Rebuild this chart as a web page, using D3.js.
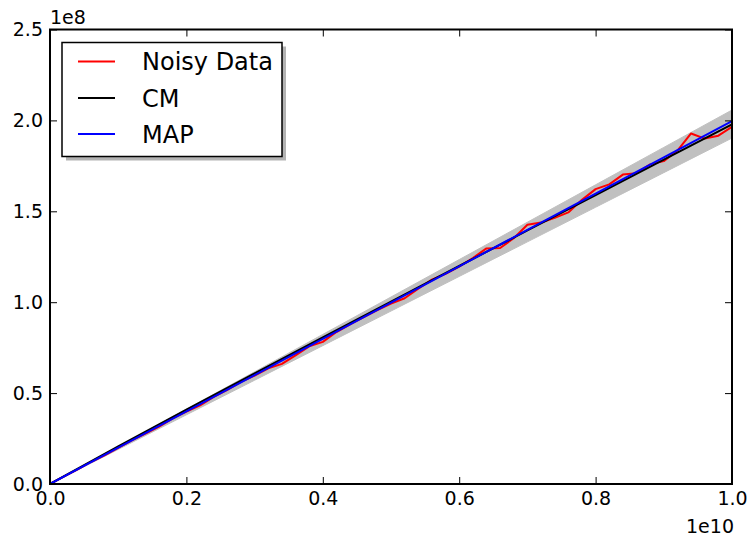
<!DOCTYPE html>
<html>
<head>
<meta charset="utf-8">
<script src="https://cdn.jsdelivr.net/npm/d3@7/dist/d3.min.js"></script>
<style>
  html, body { margin: 0; padding: 0; background: #fff; }
  svg { display: block; font-family: "DejaVu Sans", sans-serif; }
</style>
</head>
<body>
<svg id="chart" width="753" height="544"></svg>
<script>
// x in units of 1e10, y in units of 1e8
const xNoisy = [0, 0.02, 0.04, 0.06, 0.08, 0.10, 0.12, 0.14, 0.16, 0.18,
                0.20, 0.22, 0.24, 0.26, 0.28, 0.30, 0.32, 0.34, 0.36, 0.38,
                0.40, 0.42, 0.44, 0.46, 0.48, 0.50, 0.52, 0.54, 0.56, 0.58,
                0.60, 0.62, 0.64, 0.66, 0.68, 0.70, 0.72, 0.74, 0.76, 0.78,
                0.80, 0.82, 0.84, 0.86, 0.88, 0.90, 0.92, 0.94, 0.96, 0.98, 1.00];
const yNoisy = [0, 0.040, 0.079, 0.121, 0.158, 0.199, 0.240, 0.277, 0.316, 0.361,
                0.398, 0.432, 0.479, 0.518, 0.562, 0.596, 0.636, 0.661, 0.708, 0.757,
                0.782, 0.836, 0.878, 0.918, 0.957, 0.992, 1.022, 1.074, 1.124, 1.156,
                1.196, 1.243, 1.296, 1.298, 1.352, 1.426, 1.438, 1.464, 1.494, 1.563,
                1.622, 1.648, 1.702, 1.710, 1.758, 1.776, 1.834, 1.928, 1.900, 1.916, 1.965];

const xModel = [0, 0.1, 0.2, 0.3, 0.4, 0.5, 0.6, 0.7, 0.8, 0.9, 1.0];
const yCM    = [0, 0.2071, 0.4087, 0.6079, 0.8058, 1.0029, 1.1991, 1.3945, 1.5895, 1.7840, 1.978];
const yMAP   = [0, 0.1996, 0.3992, 0.5988, 0.7984, 0.9980, 1.1976, 1.3972, 1.5968, 1.7964, 1.996];
const yBandLow  = [0, 0.1903, 0.3806, 0.5708, 0.7611, 0.9514, 1.1417, 1.3319, 1.5222, 1.7125, 1.9028];
const yBandHigh = [0, 0.2057, 0.4114, 0.6172, 0.8229, 1.0286, 1.2343, 1.4401, 1.6458, 1.8515, 2.0572];

const xTicks = [0, 0.2, 0.4, 0.6, 0.8, 1.0];
const yTicks = [0, 0.5, 1.0, 1.5, 2.0, 2.5];
const seriesNames = ["Noisy Data", "CM", "MAP"];
const seriesColors = ["#ff0000", "#000000", "#0000ff"];

const svg = d3.select("#chart");
const L = 50, R = 732, T = 29.5, B = 484;

const x = d3.scaleLinear().domain([0, 1]).range([L, R]);
const y = d3.scaleLinear().domain([0, 2.5]).range([B, T]);

svg.append("defs").append("clipPath").attr("id", "plotclip")
  .append("rect").attr("x", L).attr("y", T).attr("width", R - L).attr("height", B - T);

const plot = svg.append("g").attr("clip-path", "url(#plotclip)");

// uncertainty band
const bandData = xModel.map((v, i) => ({x: v, lo: yBandLow[i], hi: yBandHigh[i]}));
plot.append("path")
  .datum(bandData)
  .attr("fill", "#c0c0c0")
  .attr("stroke", "#c0c0c0")
  .attr("stroke-width", 1)
  .attr("d", d3.area().x(d => x(d.x)).y0(d => y(d.lo)).y1(d => y(d.hi)));

const line = d3.line().x(d => x(d[0])).y(d => y(d[1]));
const series = [
  xNoisy.map((v, i) => [v, yNoisy[i]]),
  xModel.map((v, i) => [v, yCM[i]]),
  xModel.map((v, i) => [v, yMAP[i]])
];
series.forEach((pts, i) => {
  plot.append("path")
    .datum(pts)
    .attr("fill", "none")
    .attr("stroke", seriesColors[i])
    .attr("stroke-width", 2)
    .attr("stroke-linejoin", "round")
    .attr("d", line);
});

// axes with inward ticks on all four sides
const fmt = d3.format(".1f");
const tickLen = 7;
function styleAxis(g) {
  g.select(".domain").remove();
  g.selectAll(".tick line").attr("stroke", "#000").attr("stroke-width", 1);
  g.selectAll(".tick text").attr("fill", "#000").style("font-size", "19px")
    .style("font-family", "DejaVu Sans");
}
svg.append("g").attr("transform", `translate(0,${B})`)
  .call(d3.axisBottom(x).tickValues(xTicks).tickFormat(fmt).tickSizeInner(-tickLen).tickSizeOuter(0).tickPadding(8))
  .call(styleAxis);
svg.append("g").attr("transform", `translate(0,${T})`)
  .call(d3.axisTop(x).tickValues(xTicks).tickFormat("").tickSizeInner(-tickLen).tickSizeOuter(0))
  .call(styleAxis);
svg.append("g").attr("transform", `translate(${L},0)`)
  .call(d3.axisLeft(y).tickValues(yTicks).tickFormat(fmt).tickSizeInner(-tickLen).tickSizeOuter(0).tickPadding(7))
  .call(styleAxis);
svg.append("g").attr("transform", `translate(${R},0)`)
  .call(d3.axisRight(y).tickValues(yTicks).tickFormat("").tickSizeInner(-tickLen).tickSizeOuter(0))
  .call(styleAxis);

// frame
svg.append("rect").attr("x", L).attr("y", T).attr("width", R - L).attr("height", B - T)
  .attr("fill", "none").attr("stroke", "#000").attr("stroke-width", 2);

// offset labels
svg.append("text").attr("x", L).attr("y", 24).attr("font-size", 19).text("1e8");
svg.append("text").attr("x", R + 2).attr("y", 533).attr("font-size", 19)
  .attr("text-anchor", "end").text("1e10");

// legend
const lg = svg.append("g");
const lx = 62, ly = 42.5, lw = 220, lh = 114;
lg.append("rect").attr("x", lx + 4).attr("y", ly + 4).attr("width", lw).attr("height", lh)
  .attr("fill", "#b3b3b3");
lg.append("rect").attr("x", lx).attr("y", ly).attr("width", lw).attr("height", lh)
  .attr("fill", "#fff").attr("stroke", "#000").attr("stroke-width", 1.5);
const rowY = [61.5, 98, 134];
seriesNames.forEach((name, i) => {
  lg.append("line").attr("x1", 78).attr("x2", 115).attr("y1", rowY[i]).attr("y2", rowY[i])
    .attr("stroke", seriesColors[i]).attr("stroke-width", 2);
  lg.append("text").attr("x", 142).attr("y", rowY[i] + 8.5).attr("font-size", 24)
    .attr("fill", "#000").text(name);
});
</script>
</body>
</html>
